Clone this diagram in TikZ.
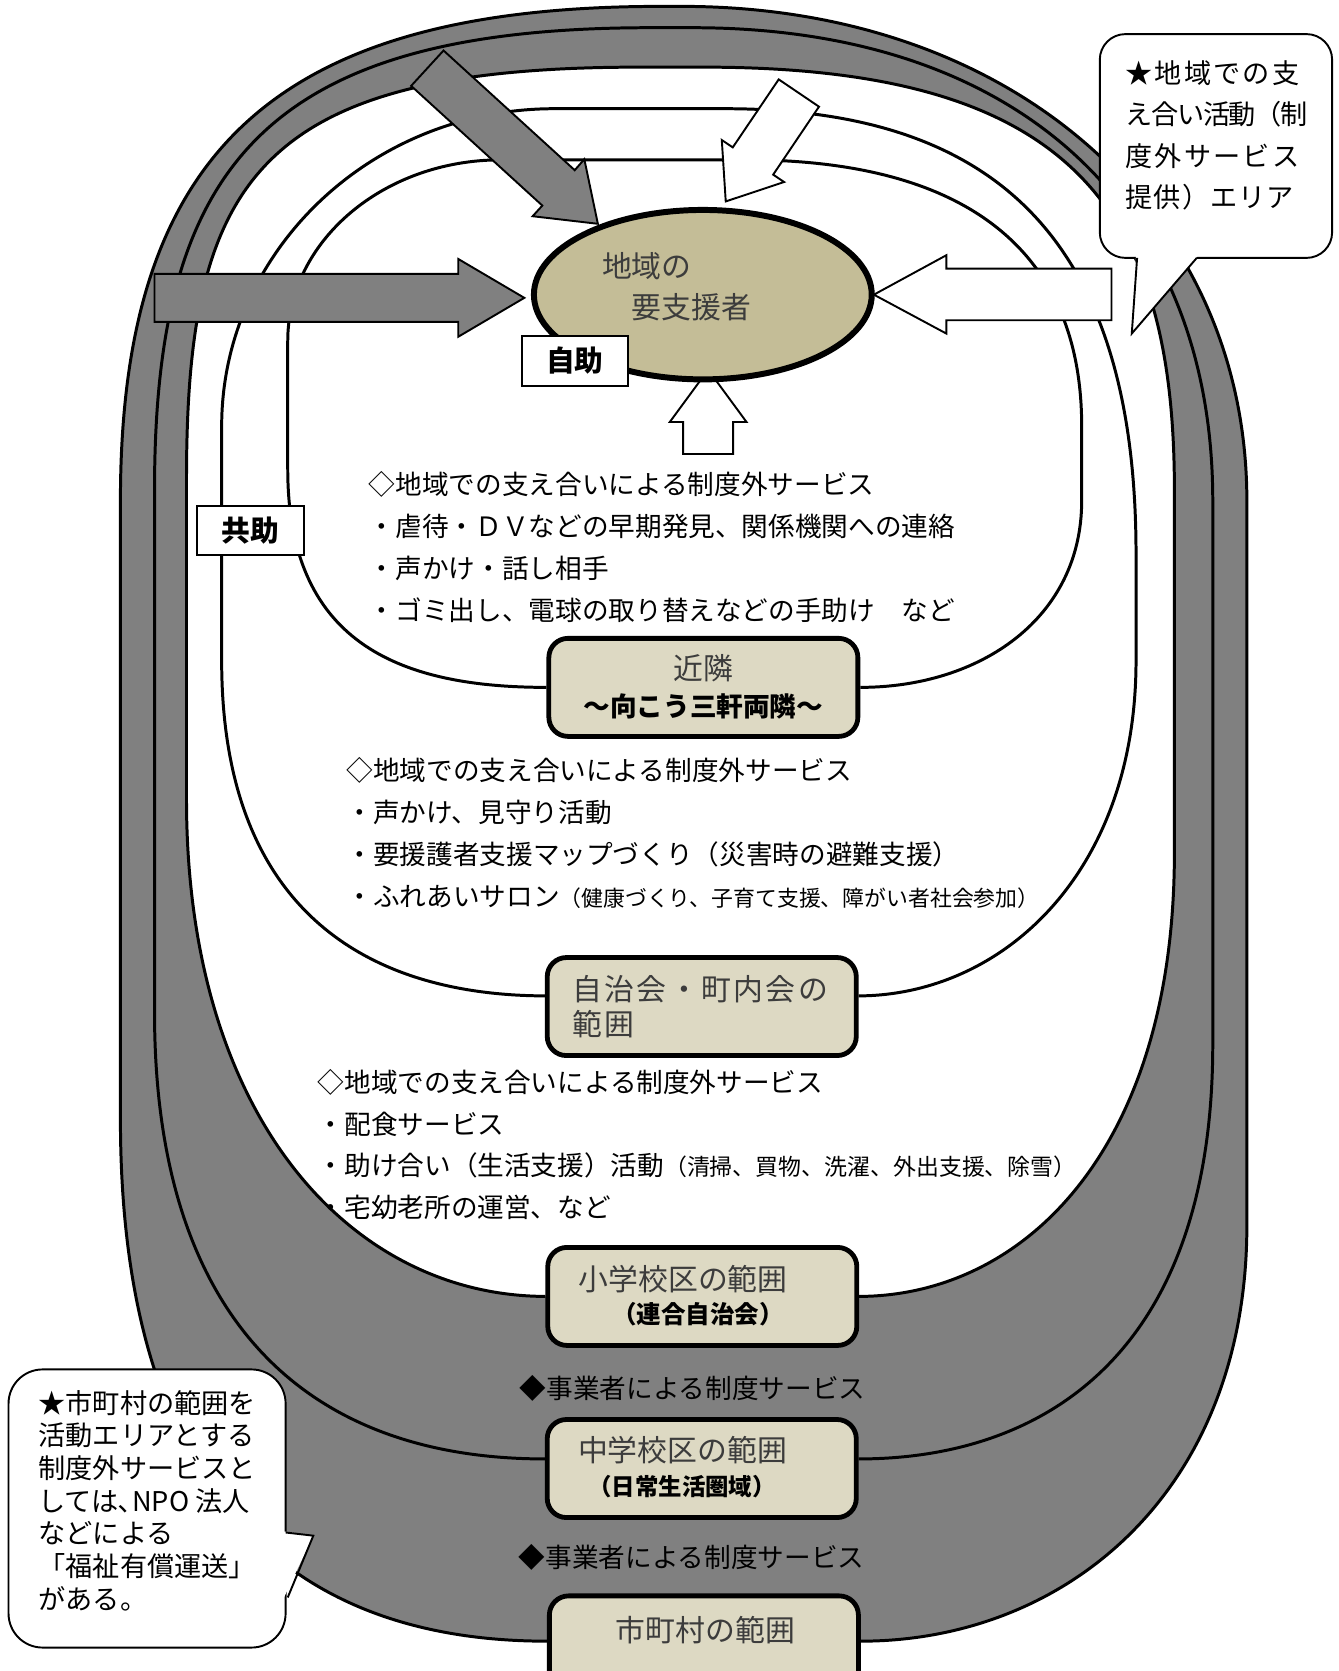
\documentclass[tikz,border=0pt]{standalone}
\usepackage{fontspec}
\setmainfont{Noto Sans CJK JP}
\usetikzlibrary{shapes.geometric}
\definecolor{bandgray}{HTML}{808080}
\definecolor{boxtan}{HTML}{DDD9C3}
\definecolor{elltan}{HTML}{C4BD97}
\definecolor{mtext}{HTML}{3C3C3C}
\pgfdeclarelayer{back}
\pgfsetlayers{back,main}
\begin{document}
\begin{tikzpicture}[x=1pt,y=-1pt,
 loopline/.style={line width=2.8pt},
 blockarrow/.style={draw=black,line width=1.8pt,line join=miter},
 tanbox/.style={draw=black,line width=4.5pt,fill=boxtan,rounded corners=18pt,minimum width=290pt,minimum height=92pt,inner sep=0pt},
 titletext/.style={font=\fontsize{28}{34}\selectfont,text=mtext,inner sep=0pt},
 subtext/.style={font=\fontsize{23}{28}\selectfont\bfseries,inner sep=0pt},
 blocktext/.style={anchor=west,align=left,inner sep=0pt,font=\fontsize{25}{39.3}\selectfont},
 labelbox/.style={draw=black,line width=1.8pt,fill=white,inner sep=0pt,font=\fontsize{27}{30}\selectfont\bfseries},
 calloutbox/.style={draw=black,line width=1.8pt,fill=white,inner sep=0pt},
 servicetext/.style={inner sep=0pt,font=\fontsize{25}{30}\selectfont}
]
\useasboundingbox (0,0) rectangle (1256,1568);
\clip (0,0) rectangle (1256,1568);

% block arrows
\filldraw[blockarrow,fill=bandgray] (385.8,80.6) -- (416.2,47.4) -- (539.3,159.7) -- (548.3,149.4) -- (561,210) -- (499.8,202.9) -- (508.9,192.9) -- cycle;
\filldraw[blockarrow,fill=white] (730.7,74.5) -- (768.5,100.1) -- (725.5,163.9) -- (735.8,170.8) -- (681,189) -- (677.3,131.4) -- (687.6,138.3) -- cycle;
\filldraw[blockarrow,fill=bandgray] (145,257) -- (430,257) -- (430,243) -- (492,279.5) -- (430,316) -- (430,302) -- (145,302) -- cycle;
\filldraw[blockarrow,fill=white] (1043,252) -- (888,252) -- (888,239.5) -- (820,276.5) -- (888,313) -- (888,300.5) -- (1043,300.5) -- cycle;
\filldraw[blockarrow,fill=white] (641,426) -- (641,396) -- (628.5,396) -- (664.5,347) -- (700.5,396) -- (688,396) -- (688,426) -- cycle;

% central person
\node[ellipse,draw=black,line width=5.6pt,fill=elltan,minimum width=317pt,minimum height=159pt,inner sep=0pt] (person) at (659.5,276.5) {};
\node[titletext] (person-a) at (607,250) {地域の};
\node[titletext] (person-b) at (649,288) {要支援者};

\node[labelbox,minimum width=99pt,minimum height=47pt] (jijo) at (539.5,338.5) {自助};
\node[labelbox,minimum width=100pt,minimum height=46pt] (kyojo) at (235,498) {共助};

% range boxes
\node[tanbox] (kinrin) at (660,645) {};
\node[tanbox] (jichi) at (658.5,944.5) {};
\node[tanbox] (sho) at (659,1216.5) {};
\node[tanbox] (chu) at (658.5,1378) {};
\node[tanbox,minimum height=95pt] (smc) at (660.5,1545) {};

\node[titletext] (kinrin-a) at (660,627) {近隣};
\node[subtext,font=\fontsize{25}{30}\selectfont\bfseries] (kinrin-b) at (660,663) {～向こう三軒両隣～};
\node[titletext,anchor=west,align=left,font=\fontsize{28}{33}\selectfont\addfontfeatures{LetterSpace=8}] (jichi-a) at (537,944.5) {自治会・町内会の\\範囲};
\node[titletext] (sho-a) at (641,1200) {小学校区の範囲};
\node[subtext] (sho-b) at (655,1233) {（連合自治会）};
\node[titletext] (chu-a) at (640.5,1361) {中学校区の範囲};
\node[subtext,font=\fontsize{22}{28}\selectfont\bfseries] (chu-b) at (640,1395) {（日常生活圏域）};
\node[titletext] (smc-a) at (662,1530) {市町村の範囲};

% service texts
\node[blocktext] (blk1) at (346,513.5) {◇地域での支え合いによる制度外サービス\\・虐待・ＤＶなどの早期発見、関係機関への連絡\\・声かけ・話し相手\\・ゴミ出し、電球の取り替えなどの手助け　など};
\node[blocktext] (blk2) at (325,781.5) {◇地域での支え合いによる制度外サービス\\・声かけ、見守り活動\\・要援護者支援マップづくり（災害時の避難支援）\\・ふれあいサロン{\fontsize{20.5}{39.3}\selectfont（健康づくり、子育て支援、障がい者社会参加）}};
\node[blocktext] (blk3) at (298,1074) {◇地域での支え合いによる制度外サービス\\・配食サービス\\・助け合い（生活支援）活動{\fontsize{21.5}{39.3}\selectfont（清掃、買物、洗濯、外出支援、除雪）}\\・宅幼老所の運営、など};
\node[servicetext] (svc1) at (650,1303) {◆事業者による制度サービス};
\node[servicetext] (svc2) at (649,1461) {◆事業者による制度サービス};

% callouts
\node[calloutbox,rounded corners=24pt,minimum width=218pt,minimum height=210pt] (note1) at (1141,137) {};
\fill[white] (1066,240) -- (1062,313) -- (1124,240) -- cycle;
\draw[line width=1.8pt,line join=miter] (1067,242) -- (1062,313) -- (1123,242);
\node[anchor=west,align=left,inner sep=0pt,font=\fontsize{25.5}{38.7}\selectfont] (note1-t) at (1056,127) {{\addfontfeatures{LetterSpace=8}★地域での支}\\{\addfontfeatures{LetterSpace=-5}え合い活動（制}\\{\addfontfeatures{LetterSpace=8}度外サービス}\\{\addfontfeatures{LetterSpace=4}提供）エリア}};

\node[calloutbox,rounded corners=32pt,minimum width=260pt,minimum height=261pt] (note2) at (138,1415.5) {};
\fill[white] (266,1437) -- (294,1441) -- (266,1500) -- cycle;
\draw[line width=1.8pt,line join=miter] (268,1438) -- (294,1441) -- (270,1499);
\node[anchor=west,align=left,inner sep=0pt,font=\fontsize{25.5}{30.7}\selectfont] (note2-t) at (36,1408) {★市町村の範囲を\\活動エリアとする\\制度外サービスと\\しては､NPO 法人\\などによる\\「福祉有償運送」\\がある。};

% region boundaries
\begin{pgfonlayer}{back}
\fill[white] (0,0) rectangle (1256,1568);
\fill[bandgray] ([yshift=5pt]smc.west) .. controls (290,1540) and (113,1420) .. (113,1050) -- (113,470) .. controls (113,150) and (250,6) .. (620,6) -- (640,6) .. controls (950,6) and (1170,200) .. (1170,470) -- (1170,1150) .. controls (1170,1400) and (1000,1540) .. ([yshift=5pt]smc.east) -- cycle;
\fill[white] (sho.west) .. controls (330,1216) and (175,1050) .. (175,750) -- (175,450) .. controls (175,170) and (240,63) .. (600,63) -- (660,63) .. controls (1000,63) and (1102,190) .. (1102,460) -- (1102,800) .. controls (1102,1080) and (960,1216) .. (sho.east) -- cycle;
\draw[loopline] ([yshift=5pt]smc.west) .. controls (290,1540) and (113,1420) .. (113,1050) -- (113,470) .. controls (113,150) and (250,6) .. (620,6) -- (640,6) .. controls (950,6) and (1170,200) .. (1170,470) -- (1170,1150) .. controls (1170,1400) and (1000,1540) .. ([yshift=5pt]smc.east);
\draw[loopline] ([yshift=9pt]chu.west) .. controls (280,1369) and (145,1230) .. (145,950) -- (145,460) .. controls (145,160) and (245,26) .. (610,26) -- (650,26) .. controls (960,26) and (1138,200) .. (1138,470) -- (1138,980) .. controls (1138,1270) and (980,1369) .. ([yshift=9pt]chu.east);
\draw[loopline] (sho.west) .. controls (330,1216) and (175,1050) .. (175,750) -- (175,450) .. controls (175,170) and (240,63) .. (600,63) -- (660,63) .. controls (1000,63) and (1102,190) .. (1102,460) -- (1102,800) .. controls (1102,1080) and (960,1216) .. (sho.east);
\draw[loopline] ([yshift=10pt]jichi.west) .. controls (340,934) and (208,850) .. (208,620) -- (208,400) .. controls (208,236) and (348,102) .. (520,102) -- (680,102) .. controls (930,102) and (1066,220) .. (1066,520) -- (1066,620) .. controls (1066,820) and (940,934) .. ([yshift=10pt]jichi.east);
\draw[loopline] (kinrin.west) .. controls (370,645) and (270,600) .. (270,440) -- (270,320) .. controls (270,226) and (360,150) .. (470,150) -- (700,150) .. controls (900,150) and (1015,230) .. (1015,400) -- (1015,470) .. controls (1015,580) and (920,645) .. (kinrin.east);
\end{pgfonlayer}
\end{tikzpicture}
\end{document}
